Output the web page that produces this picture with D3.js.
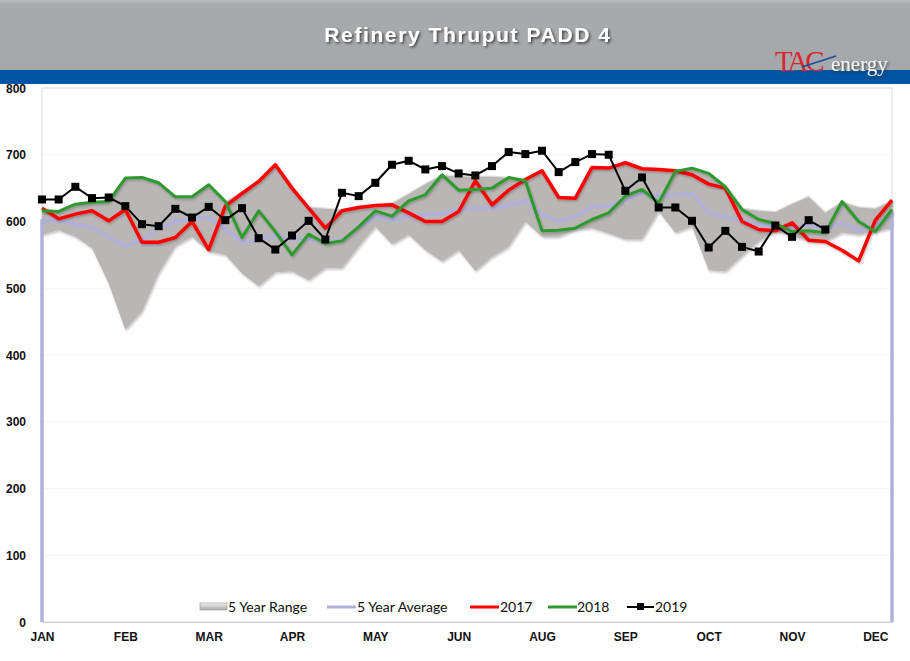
<!DOCTYPE html>
<html><head><meta charset="utf-8">
<script src="https://cdn.jsdelivr.net/npm/d3@7"></script>
<style>
html,body{margin:0;padding:0;background:#fff;}
svg{display:block;}
</style></head>
<body>
<svg id="chart" width="910" height="661"></svg>
<script>
// ---- data ----
const weeks = d3.range(1, 53); // 52 weekly categories
const monthLabels = ["JAN","FEB","MAR","APR","MAY","JUN","AUG","SEP","OCT","NOV","DEC"];
const yTicks = [0,100,200,300,400,500,600,700,800];

const rangeMax = [620,615,626,629,630,665,666,658,637,637,655,630,645,661,685,652,622,620,618,622,624,628,642,657,670,668,668,668,666,663,676,636,635,681,680,688,679,678,676,680,672,653,620,617,615,627,638,614,630,622,620,632];
const rangeMin = [580,587,577,560,507,438,465,522,563,577,555,550,522,503,524,525,512,530,530,562,592,566,580,557,540,557,526,547,562,600,577,577,588,590,582,573,573,615,583,592,527,525,548,570,586,577,572,570,583,580,585,590];
const avg5 = [602,601,596,591,577,563,573,588,600,605,606,588,570,572,580,573,573,571,572,590,607,602,608,610,612,618,620,620,624,631,611,600,607,622,623,632,641,638,640,642,613,607,602,595,591,590,595,590,598,587,593,612];
const y2017 = [620,604,611,616,601,618,569,569,576,600,558,623,642,660,685,650,620,590,616,621,624,625,613,600,600,615,661,625,647,663,676,636,635,681,680,688,679,678,676,670,656,650,600,588,586,598,572,570,557,541,602,632];
const y2018 = [616,615,626,629,630,665,666,658,637,637,655,630,576,616,585,550,581,567,571,592,616,608,631,640,670,647,648,650,666,661,586,587,590,603,613,638,648,628,675,680,672,652,618,603,597,585,586,583,630,600,585,618];
const y2019 = [633,633,652,635,636,623,596,593,619,606,622,602,620,575,558,579,601,573,643,638,658,685,691,678,683,672,669,683,704,701,706,674,689,701,700,646,666,621,621,601,561,586,562,555,594,577,602,588];

const svg = d3.select("#chart");
const W = 910, H = 661;

// ---- header ----
const defs = svg.append("defs");
const hg = defs.append("linearGradient").attr("id","hdr").attr("x1",0).attr("y1",0).attr("x2",0).attr("y2",1);
hg.append("stop").attr("offset","0").attr("stop-color","#b9babd");
hg.append("stop").attr("offset","0.06").attr("stop-color","#a9aaad");
hg.append("stop").attr("offset","1").attr("stop-color","#a6a7aa");
svg.append("rect").attr("x",0).attr("y",0).attr("width",W).attr("height",70).attr("fill","url(#hdr)");
svg.append("rect").attr("x",0).attr("y",70).attr("width",W).attr("height",14).attr("fill","#0054a4");

const ts = defs.append("filter").attr("id","tshadow").attr("x","-10%").attr("y","-30%").attr("width","120%").attr("height","160%");
ts.append("feDropShadow").attr("dx",1.5).attr("dy",1.5).attr("stdDeviation",0.8).attr("flood-color","#333").attr("flood-opacity",0.85);

svg.append("text").attr("x",468).attr("y",42).attr("text-anchor","middle")
  .attr("font-family","'Liberation Sans Narrow','Liberation Sans',Arial,sans-serif").attr("font-weight","bold")
  .attr("font-size",21).attr("letter-spacing",1.6).attr("fill","#fff").attr("filter","url(#tshadow)")
  .text("Refinery Thruput PADD 4");

// logo
const logo = svg.append("g");
logo.append("text").attr("x",775).attr("y",71).attr("font-family","'Liberation Serif','DejaVu Serif',serif")
  .attr("font-size",29).attr("fill","#d8262e").attr("letter-spacing",-3).text("TAC");
logo.append("path").attr("d","M802,67 L836,56").attr("stroke","#1a4f9c").attr("stroke-width",1.6).attr("fill","none");
logo.append("text").attr("x",831).attr("y",71).attr("font-family","'Liberation Serif','DejaVu Serif',serif")
  .attr("font-size",21).attr("fill","#f4f4f4").attr("filter","url(#tshadow)").text("energy");

// ---- scales ----
const x = d3.scalePoint().domain(weeks).range([42, 892]);
const y = d3.scaleLinear().domain([0, 800]).range([622, 88]);

// plot frame + grid
svg.append("g").selectAll("line").data(yTicks.filter(d=>d>0)).join("line")
  .attr("x1",42).attr("x2",892).attr("y1",d=>y(d)).attr("y2",d=>y(d))
  .attr("stroke","#f6f6f6").attr("stroke-width",1);
svg.append("rect").attr("x",42).attr("y",88).attr("width",850).attr("height",534)
  .attr("fill","none").attr("stroke","#dcdcdc").attr("stroke-width",1);

// ---- y axis ----
const yAxis = svg.append("g").attr("transform","translate(26,0)")
  .call(d3.axisLeft(y).tickValues(yTicks).tickSize(0).tickPadding(0));
yAxis.select(".domain").remove();
yAxis.selectAll("text").attr("font-family","'Liberation Sans',Arial,sans-serif").attr("font-weight","bold")
  .attr("font-size",12).attr("fill","#111").attr("dy","0.35em");

// ---- x axis ----
const tickWeeks = weeks.filter((d,i)=>i%5===0);
const xAxis = svg.append("g").attr("transform","translate(0,622)")
  .call(d3.axisBottom(x).tickValues(tickWeeks).tickSize(0).tickPadding(10)
    .tickFormat(d=>monthLabels[tickWeeks.indexOf(d)]));
xAxis.select(".domain").attr("stroke","#d0d0d0");
xAxis.selectAll("text").attr("font-family","'Liberation Sans',Arial,sans-serif").attr("font-weight","bold")
  .attr("font-size",12).attr("fill","#111");

// ---- filters ----
const ls = defs.append("filter").attr("id","lshadow").attr("x","-5%").attr("y","-20%").attr("width","110%").attr("height","140%");
ls.append("feDropShadow").attr("dx",1).attr("dy",1.5).attr("stdDeviation",1).attr("flood-color","#000").attr("flood-opacity",0.25);

// ---- 5 year range area ----
const area = d3.area().x((d,i)=>x(weeks[i])).y0((d,i)=>y(rangeMin[i])).y1(d=>y(d));
svg.append("path").datum(rangeMax).attr("d",area).attr("fill","#bab6b6").attr("filter","url(#lshadow)");
svg.append("path").datum(rangeMax).attr("d",d3.line().x((d,i)=>x(weeks[i])).y(d=>y(d)))
  .attr("fill","none").attr("stroke","#e2dede").attr("stroke-width",1.2);

// ---- 5 year average (drops to zero at both ends) ----
const avgPts = [[weeks[0],0]].concat(avg5.map((v,i)=>[weeks[i],v])).concat([[weeks[weeks.length-1],0]]);
svg.append("path").datum(avgPts).attr("d",d3.line().x(d=>x(d[0])).y(d=>y(d[1])))
  .attr("fill","none").attr("stroke","#b0b0da").attr("stroke-width",3.5).attr("stroke-linejoin","round");

// ---- yearly lines ----
const line = d3.line().x((d,i)=>x(weeks[i])).y(d=>y(d));
svg.append("path").datum(y2017).attr("d",line).attr("fill","none").attr("stroke","#ff0000")
  .attr("stroke-width",3.5).attr("stroke-linejoin","round").attr("filter","url(#lshadow)");
svg.append("path").datum(y2018).attr("d",line).attr("fill","none").attr("stroke","#2f9a2f")
  .attr("stroke-width",3).attr("stroke-linejoin","round").attr("filter","url(#lshadow)");
svg.append("path").datum(y2019).attr("d",line).attr("fill","none").attr("stroke","#000")
  .attr("stroke-width",2).attr("stroke-linejoin","round");
svg.append("g").selectAll("rect").data(y2019).join("rect")
  .attr("x",(d,i)=>x(weeks[i])-4).attr("y",d=>y(d)-4).attr("width",8).attr("height",8).attr("fill","#000");

// ---- legend ----
const lg = svg.append("g").attr("font-family","Lato,'Noto Sans',sans-serif").attr("font-size",14).attr("fill","#111");
const rg = defs.append("linearGradient").attr("id","rgIcon").attr("x1",0).attr("y1",0).attr("x2",0).attr("y2",1);
rg.append("stop").attr("offset","0").attr("stop-color","#f2f2f2");
rg.append("stop").attr("offset","1").attr("stop-color","#a9a6a6");
lg.append("rect").attr("x",200).attr("y",603).attr("width",27).attr("height",7).attr("fill","url(#rgIcon)").attr("stroke","#9a9a9a").attr("stroke-width",0.6);
lg.append("text").attr("x",228).attr("y",612).text("5 Year Range");
lg.append("line").attr("x1",327).attr("x2",356).attr("y1",607).attr("y2",607).attr("stroke","#b0b0da").attr("stroke-width",3);
lg.append("text").attr("x",357).attr("y",612).text("5 Year Average");
lg.append("line").attr("x1",470).attr("x2",499).attr("y1",607).attr("y2",607).attr("stroke","#ff0000").attr("stroke-width",3);
lg.append("text").attr("x",500).attr("y",612).text("2017");
lg.append("line").attr("x1",548).attr("x2",577).attr("y1",607).attr("y2",607).attr("stroke","#2f9a2f").attr("stroke-width",3);
lg.append("text").attr("x",577).attr("y",612).text("2018");
lg.append("line").attr("x1",627).attr("x2",654).attr("y1",607).attr("y2",607).attr("stroke","#000").attr("stroke-width",2);
lg.append("rect").attr("x",637).attr("y",603).attr("width",7).attr("height",7).attr("fill","#000");
lg.append("text").attr("x",655).attr("y",612).text("2019");
</script>
</body></html>
